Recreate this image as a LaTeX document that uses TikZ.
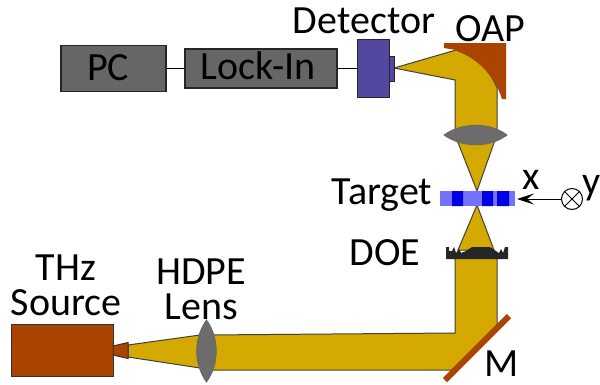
\documentclass[tikz,border=0pt]{standalone}
\usepackage{fontspec}
\setmainfont{Carlito}
\usetikzlibrary{arrows.meta}
\definecolor{beam}{HTML}{D4AA00}
\definecolor{rust}{HTML}{AA4400}
\definecolor{lensg}{HTML}{6C6C6C}
\definecolor{boxg}{HTML}{666666}
\definecolor{det}{HTML}{5248A0}
\tikzset{
 x=1pt,y=-1pt,
 lbl/.style={font=\fontsize{40}{40}\selectfont,inner sep=0pt,text=black},
 twoline/.style={font=\fontsize{40}{35}\selectfont,inner sep=0pt,text=black,align=center,text width=130pt},
 gbox/.style={draw=black!85,line width=1.2pt,fill=boxg,inner sep=0pt},
 beamline/.style={draw=black!75,line width=1pt,fill=beam},
 lensst/.style={draw=black!60,line width=.8pt,fill=lensg},
 wire/.style={draw=black,line width=.8pt}
}
\begin{document}
\begin{tikzpicture}
\useasboundingbox (0,0) rectangle (600,384);
\fill[white] (0,0) rectangle (600,384);
% beam
\draw[beamline] (394,68) -- (456,50) .. controls (478,58) and (491,72) .. (497,88) -- (497,135) -- (455,135) -- (455,80) -- cycle;
\draw[beamline] (457,140) -- (477,191) -- (495,140) -- cycle;
\draw[beamline] (477,205) -- (458,250) -- (494,250) -- cycle;
\draw[beamline] (128,345) -- (200,335) -- (200,368) -- (128,357) -- cycle;
\draw[beamline] (455,255) -- (455,333) -- (206,335) -- (206,370) -- (452,370) -- (497,325) -- (497,255);
% OAP
\fill[rust] (444,43) -- (506,43) -- (506,99) -- (502,99) .. controls (495,77) and (480,60) .. (456,50) -- (444,48) -- cycle;
% lens upper
\draw[lensst] (444,135) .. controls (462,122) and (490,122) .. (507,135) .. controls (490,148) and (462,148) .. (444,135) -- cycle;
% target
\fill[blue!55!white] (440,191) rectangle (515,206);
\fill[blue!90!black] (452,191) rectangle (463,206) (482,191) rectangle (493,206) (497,191) rectangle (509,206);
% DOE
\fill[black!85] (446,247) -- (449,247) -- (449,251) -- (452,251) -- (454,247) -- (456,253) -- (459,249) -- (461,253) -- (466,251) -- (472,247) -- (490,247) -- (496,251) -- (499,253) -- (501,249) -- (503,253) -- (505,247) -- (507,251) -- (505,251) -- (505,247) -- (508,247) -- (508,259) -- (446,259) -- cycle;
% coordinates
\coordinate (xa) at (517,199);
\node[circle,draw=black,line width=1pt,minimum size=21pt,inner sep=0pt] (yc) at (572,199) {};
\draw[line width=.8pt] (yc.north west) -- (yc.south east) (yc.north east) -- (yc.south west);
\draw[line width=1pt,-{Stealth[length=17pt,width=11pt,inset=7pt]}] (yc) -- (xa);
% boxes
\node[gbox,minimum width=105pt,minimum height=46pt] (pc) at (113.5,68.5) {};
\node[gbox,minimum width=152pt,minimum height=39pt] (li) at (261,68.5) {};
\draw[wire] (pc.east) -- (li.west);
\node[draw=black!85,fill=det,line width=.8pt,minimum width=32pt,minimum height=58pt,inner sep=0pt] (detr) at (373,68) {};
\node[draw=black!85,fill=det,line width=.6pt,minimum width=5pt,minimum height=25pt,inner sep=0pt] (dets) at (391.5,68.5) {};
\draw[wire] (li.east) -- (detr.west |- li.east);
% THz source
\node[draw=black!80,line width=1pt,fill=rust,minimum width=102pt,minimum height=52pt,inner sep=0pt] (src) at (62,350) {};
\draw[draw=black!80,line width=1pt,fill=rust] (113,346) -- (128,342.5) -- (128,358.5) -- (113,355) -- cycle;
% lens lower
\draw[lensst] (206.5,320) .. controls (219.5,338) and (219.5,364) .. (206.5,382) .. controls (193.5,364) and (193.5,338) .. (206.5,320) -- cycle;
% mirror
\draw[rust,line width=6pt] (445,380) -- (509,316);
% labels
\node[lbl] (t1) at (108,68) {PC};
\node[lbl] (t2) at (258,66) {Lock-In};
\node[lbl] (l1) at (364,21) {Detector};
\node[lbl] (l2) at (490,29) {OAP};
\node[lbl] (l3) at (382,195) {Target};
\node[lbl] (l4) at (385,253) {DOE};
\node[lbl] (l5) at (531,180) {x};
\node[lbl] (l6) at (592,188) {y};
\node[lbl] (l7) at (502,364) {M};
\node[twoline] (l8) at (66,285) {THz\\Source};
\node[twoline] (l9) at (201,289) {HDPE\\Lens};
\end{tikzpicture}
\end{document}
